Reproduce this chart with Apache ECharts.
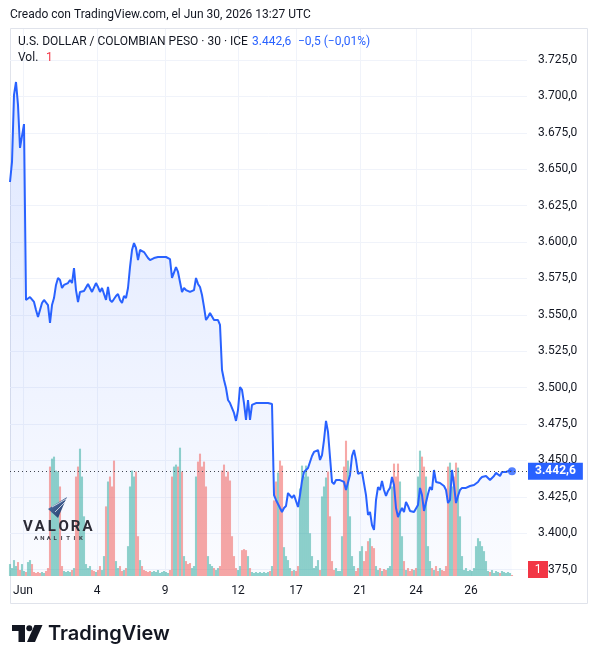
<!DOCTYPE html>
<html><head><meta charset="utf-8">
<script src="https://cdn.jsdelivr.net/npm/echarts@6/dist/echarts.min.js"></script>
<style>html,body{margin:0;padding:0;background:#fff}#c{width:598px;height:664px}</style>
</head><body><div id="c"></div>
<script>
// USD/COP 30-min closes (one per bar)
const priceValues = [
3641.2,3655.0,3701.0,3709.9,3694.1,3664.6,3665.9,3681.0,3560.2,3560.2,
3562.2,3561.5,3558.8,3553.3,3548.5,3547.8,3558.1,3560.2,3559.5,3556.7,
3544.4,3556.7,3561.5,3570.5,3575.3,3573.9,3568.4,3570.5,3571.2,3571.8,
3573.9,3571.8,3582.1,3567.0,3558.8,3565.7,3565.7,3566.3,3567.0,3571.2,
3571.8,3565.7,3565.0,3571.8,3569.1,3565.7,3568.4,3569.1,3560.2,3569.1,
3560.2,3558.8,3558.1,3562.9,3564.3,3560.2,3558.1,3562.9,3561.5,3568.4,
3582.8,3594.5,3599.3,3595.9,3587.6,3594.5,3593.8,3593.1,3591.1,3589.0,
3587.6,3588.3,3589.0,3589.7,3589.7,3589.7,3589.7,3589.7,3589.7,3589.7,
3588.3,3575.3,3576.0,3582.8,3579.4,3579.4,3565.7,3568.4,3567.0,3566.3,
3565.7,3566.3,3567.0,3575.3,3571.2,3569.1,3563.6,3555.4,3546.4,3548.5,
3551.2,3551.2,3546.4,3546.4,3546.4,3543.0,3512.1,3505.2,3499.7,3491.5,
3489.4,3488.7,3482.6,3477.1,3484.6,3500.4,3498.4,3489.4,3477.8,3491.5,
3477.8,3488.1,3489.4,3489.4,3489.4,3489.4,3489.4,3489.4,3489.4,3489.4,
3488.7,3488.7,3426.2,3422.8,3422.8,3417.3,3414.6,3417.3,3418.7,3427.6,
3428.3,3424.2,3426.2,3425.6,3418.0,3426.2,3435.9,3442.0,3443.4,3444.8,
3448.9,3453.0,3455.8,3457.1,3457.1,3450.3,3453.7,3464.0,3477.1,3469.5,
3452.3,3435.2,3433.8,3436.5,3436.5,3436.5,3436.5,3435.2,3429.7,3429.7,
3440.0,3453.0,3457.1,3450.3,3440.7,3442.0,3442.0,3440.7,3426.2,3412.5,
3414.6,3405.6,3402.2,3422.8,3431.7,3429.7,3435.9,3429.7,3425.6,3429.0,
3431.1,3438.6,3433.1,3417.3,3411.1,3414.6,3417.3,3414.6,3421.4,3418.7,
3415.3,3414.6,3414.6,3413.9,3419.4,3431.1,3426.2,3415.3,3416.6,3426.9,
3431.7,3429.7,3443.4,3435.2,3434.5,3434.5,3433.8,3432.4,3429.7,3420.7,
3422.8,3443.4,3433.1,3420.7,3425.6,3429.7,3431.1,3431.1,3431.1,3431.7,
3432.4,3433.1,3433.1,3433.1,3435.2,3437.2,3438.6,3438.6,3439.3,3440.0,
3436.5,3437.2,3439.3,3441.4,3442.0,3439.3,3442.0,3442.0,3442.0,3442.7,
3443.1,3442.6
];
// Volume per bar (relative units)
const volumeValues = [
12,8,16,10,14,6,12,5,4,14,16,12,4,3,4,3,4,3,5,8,
110,118,120,106,105,90,10,5,4,5,4,6,8,100,110,128,100,60,12,8,
10,6,5,4,6,10,6,20,70,95,100,90,116,15,8,10,5,6,8,30,
90,106,100,105,40,16,10,6,5,4,5,4,5,4,6,3,4,5,4,3,
6,100,110,112,110,129,105,20,15,12,13,8,10,100,115,123,110,115,90,20,
12,10,8,6,8,10,106,112,100,105,96,40,20,8,6,10,26,27,26,20,
8,4,3,4,3,4,3,4,3,4,5,10,76,95,104,116,111,29,20,16,
8,5,6,5,10,88,111,100,111,100,43,20,8,10,16,6,80,90,99,105,
60,15,6,8,5,5,40,110,136,116,60,20,10,5,8,25,30,15,25,35,
38,30,28,10,6,8,5,7,6,8,10,90,113,100,113,95,40,15,6,8,
5,7,6,8,100,126,120,110,100,30,15,8,6,10,5,8,6,5,10,110,
114,90,100,114,109,60,20,6,8,5,6,5,8,30,38,35,30,25,15,5,
4,6,3,5,4,3,5,4,3,4,3,1
];
const xTickIndex = [6.5, 43.5, 77.5, 114, 143, 175, 203, 230.5];
const xTickLabels = ['Jun', '4', '9', '12', '17', '21', '24', '26'];
const yTickValues = [3375,3400,3425,3450,3475,3500,3525,3550,3575,3600,3625,3650,3675,3700,3725];

function fmtNum(v, dec) {
  const neg = v < 0; v = Math.abs(v);
  let [ip, dp] = v.toFixed(dec).split('.');
  ip = ip.replace(/\B(?=(\d{3})+(?!\d))/g, '.');
  return (neg ? '\u2212' : '') + ip + (dp !== undefined ? ',' + dp : '');
}

const n = priceValues.length;
const last = priceValues[n - 1];
const prev = priceValues[n - 2];
const chg = last - prev;
const chgPct = chg / prev * 100;
const lastVol = volumeValues[volumeValues.length - 1];
const priceData = priceValues.map((v, i) => [i, v]);
const volData = volumeValues.map((v, i) => [i, v]);
const UP = 'rgba(38,166,154,0.5)', DOWN = 'rgba(239,83,80,0.5)';
const volColors = priceValues.map((v, i) => (i === 0 || v >= priceValues[i - 1]) ? UP : DOWN);

const FONT = 'Roboto, "Noto Sans", sans-serif';
const TXT = '#131722';

function txt(text, x, y, opts) {
  return Object.assign({
    type: 'text', silent: true, z: 100,
    style: Object.assign({
      text: text, x: x, y: y, fill: TXT, font: '12px ' + FONT,
      align: 'left', verticalAlign: 'middle', textAlign: 'left', textVerticalAlign: 'middle'
    }, opts || {})
  });
}

const graphics = [
  { type: 'rect', silent: true, z: 0, shape: { x: 10.5, y: 28.5, width: 577, height: 575 },
    style: { fill: 'none', stroke: '#e0e3eb', lineWidth: 1 } },
  txt('Creado con TradingView.com, el Jun 30, 2026 13:27 UTC', 10, 15),
  txt('U.S. DOLLAR / COLOMBIAN PESO \u00b7 30 \u00b7 ICE', 18, 42),
  txt(fmtNum(last, 1), 252, 42, { fill: '#2962ff' }),
  txt(fmtNum(chg, 1) + ' (' + fmtNum(chgPct, 2) + '%)', 298, 42, { fill: '#2962ff' }),
  txt('Vol.', 18, 58),
  txt(String(lastVol), 46, 58, { fill: '#f23645' }),
  // Valora Analitik watermark
  { type: 'polygon', silent: true, z: 50, shape: { points: [[67, 497], [48, 509], [58, 518]] },
    style: { fill: new echarts.graphic.LinearGradient(0, 0, 1, 1, [{ offset: 0, color: '#5a7db5' }, { offset: 1, color: '#1f3763' }]) } },
  { type: 'polyline', silent: true, z: 51, shape: { points: [[52, 507], [66, 499]] }, style: { stroke: 'rgba(255,255,255,0.7)', lineWidth: 1 } },
  { type: 'polyline', silent: true, z: 51, shape: { points: [[55, 512], [66, 501]] }, style: { stroke: 'rgba(255,255,255,0.7)', lineWidth: 1 } },
  // volume last-value label on the price scale
  { type: 'rect', silent: true, z: 100, shape: { x: 528, y: 561, width: 20, height: 17 }, style: { fill: '#f23645' } },
  txt(String(lastVol), 538, 569.5, { fill: '#ffffff', align: 'center', textAlign: 'center' })
];
'VALORA'.split('').forEach((ch, k) => {
  graphics.push(txt(ch, 28 + k * 11.9, 527, { font: 'bold 15px ' + FONT, fill: '#2b2b36', align: 'center', textAlign: 'center' }));
});
'ANALITIK'.split('').forEach((ch, k) => {
  graphics.push(txt(ch, 36 + k * 6.4, 538, { font: 'bold 6px ' + FONT, fill: '#3a3a44', align: 'center', textAlign: 'center' }));
});
// TradingView logo
graphics.push(
  { type: 'rect', silent: true, z: 100, shape: { x: 12, y: 625, width: 13, height: 6 }, style: { fill: TXT } },
  { type: 'rect', silent: true, z: 100, shape: { x: 18.5, y: 625, width: 6.5, height: 17 }, style: { fill: TXT } },
  { type: 'circle', silent: true, z: 100, shape: { cx: 29.3, cy: 628.2, r: 3 }, style: { fill: TXT } },
  { type: 'polygon', silent: true, z: 100, shape: { points: [[34.5, 625], [42.5, 625], [35, 642], [27, 642]] }, style: { fill: TXT } },
  txt('TradingView', 48, 634, { font: '600 20px Inter, ' + FONT, fill: TXT })
);

const option = {
  animation: false,
  backgroundColor: '#ffffff',
  grid: { left: 10, right: 71, top: 29, bottom: 88, containLabel: false },
  xAxis: [{
    type: 'value', min: 0, max: 258.5,
    axisLine: { show: false },
    axisTick: { show: false, customValues: xTickIndex },
    axisLabel: {
      customValues: xTickIndex, color: TXT, fontSize: 12, fontFamily: FONT, margin: 9,
      formatter: v => { const k = xTickIndex.indexOf(v); return k >= 0 ? xTickLabels[k] : ''; }
    },
    splitLine: { show: true, lineStyle: { color: '#f0f3fa', width: 1 } }
  }],
  yAxis: [{
    type: 'value', position: 'right', min: 3370.6, max: 3746.3,
    axisLine: { show: false },
    axisTick: { show: false, customValues: yTickValues },
    axisLabel: { customValues: yTickValues, color: TXT, fontSize: 12, fontFamily: FONT, margin: 11,
      formatter: v => fmtNum(v, 1) },
    splitLine: { show: true, lineStyle: { color: '#f0f3fa', width: 1 } }
  }, {
    type: 'value', min: 0, max: 550, show: false, position: 'left'
  }],
  series: [
    { type: 'line', name: 'area', data: priceData, showSymbol: false, silent: true, z: 1,
      lineStyle: { width: 0 },
      areaStyle: { color: new echarts.graphic.LinearGradient(0, 0, 0, 1, [
        { offset: 0, color: 'rgba(41,98,255,0.22)' }, { offset: 1, color: 'rgba(41,98,255,0.03)' }]) } },
    { type: 'bar', name: 'Vol.', yAxisIndex: 1, data: volData, barWidth: 2.1, silent: true, z: 2,
      itemStyle: { color: p => volColors[p.dataIndex] } },
    { type: 'line', name: 'USD/COP', data: priceData, showSymbol: false, silent: true, z: 3,
      lineStyle: { color: '#2962ff', width: 2 },
      markLine: { silent: true, symbol: 'none', animation: false,
        lineStyle: { color: '#434651', type: [1, 3], width: 1 },
        label: { show: true, position: 'end', formatter: fmtNum(last, 1), color: '#fff', backgroundColor: '#2962ff',
          padding: [3, 7, 2, 7], fontSize: 12, fontWeight: 'bold', fontFamily: FONT, distance: 1 },
        data: [{ yAxis: last }] } },
    { type: 'scatter', data: [priceData[n - 1]], symbolSize: 8, silent: true, z: 4,
      itemStyle: { color: '#2962ff' } }
  ],
  graphic: graphics
};
const chart = echarts.init(document.getElementById('c'), null, { renderer: 'canvas' });
chart.setOption(option);
</script>
</body></html>
